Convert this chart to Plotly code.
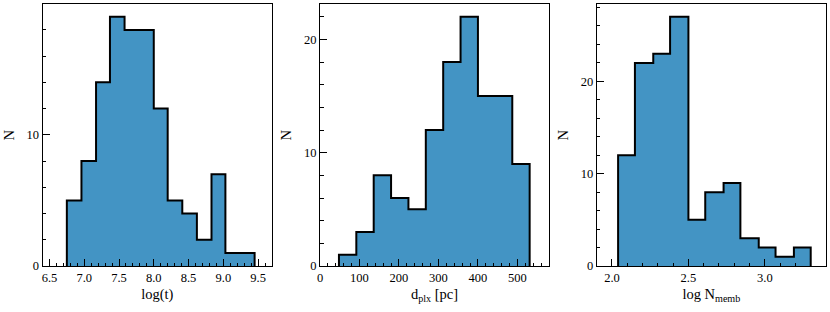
import plotly.graph_objects as go

# ---- data ----
age_edges = [6.75, 6.96, 7.17, 7.37, 7.58, 7.79, 8.00, 8.20, 8.41, 8.62, 8.83, 9.03, 9.24, 9.45]
age_counts = [5, 8, 14, 19, 18, 18, 12, 5, 4, 2, 7, 1, 1]

dist_edges = [48, 92, 136, 180, 224, 268, 312, 356, 400, 443, 487, 531]
dist_counts = [1, 3, 8, 6, 5, 12, 18, 22, 15, 15, 9]

memb_edges = [2.04, 2.15, 2.27, 2.38, 2.50, 2.61, 2.73, 2.84, 2.96, 3.07, 3.19, 3.30]
memb_counts = [12, 22, 23, 27, 5, 8, 9, 3, 2, 1, 2]

x_titles = ["log(t)", "d<sub>plx</sub> [pc]", "log N<sub>memb</sub>"]
x_ranges = [[6.4, 9.7], [0, 580], [1.9, 3.4]]
x_dticks = [0.5, 100, 0.5]
x_minor = [0.1, 20, 0.1]
x_formats = [".1f", "d", ".1f"]

W, H = 830, 312
ML, MR, MT, MB = 40, 3, 3, 46
FILL = "#4394c4"
FONT = "Liberation Serif"

panels = [(age_edges, age_counts), (dist_edges, dist_counts), (memb_edges, memb_counts)]
x_px = [(42.5, 272.0), (320.0, 549.0), (596.7, 826.0)]
y_px = (4.3, 266.0)


def fx(px):
    return (px - ML) / (W - ML - MR)


def fy(px):
    return (H - MB - px) / (H - MT - MB)


fig = go.Figure()
for i, (edges, counts) in enumerate(panels):
    xs = [edges[0]] + list(edges) + [edges[-1]]
    ys = [0] + list(counts) + [counts[-1], 0]
    ax = "" if i == 0 else str(i + 1)
    fig.add_trace(go.Scatter(
        x=xs, y=ys, mode="lines", line=dict(shape="hv", color="black", width=2),
        fill="tozeroy", fillcolor=FILL, xaxis="x" + ax, yaxis="y" + ax,
        showlegend=False, hoverinfo="skip"))
    ymax = max(counts) * 1.05
    common = dict(showline=True, linecolor="black", linewidth=1, mirror=True,
                  ticks="inside", ticklen=7, tickwidth=1, tickcolor="black",
                  showgrid=False, zeroline=False, automargin=False,
                  tickfont=dict(family=FONT, size=12.5, color="black"))
    fig.update_layout({
        "xaxis" + ax: dict(domain=[fx(x_px[i][0]), fx(x_px[i][1])], range=x_ranges[i],
                           dtick=x_dticks[i], tick0=0, tickformat=x_formats[i],
                           minor=dict(dtick=x_minor[i], tick0=0, ticks="inside", ticklen=3.5,
                                      tickcolor="black", tickwidth=1, showgrid=False),
                           title=dict(text=x_titles[i], font=dict(family=FONT, size=14.5, color="black"),
                                      standoff=4),
                           anchor="y" + ax, **common),
        "yaxis" + ax: dict(domain=[fy(y_px[1]), fy(y_px[0])], range=[0, ymax],
                           dtick=10, tick0=0,
                           minor=dict(dtick=2, tick0=0, ticks="inside", ticklen=3.5,
                                      tickcolor="black", tickwidth=1, showgrid=False),
                           title=dict(text="N", font=dict(family=FONT, size=14.5, color="black"),
                                      standoff=8),
                           anchor="x" + ax, **common),
    })

fig.update_layout(width=W, height=H, margin=dict(l=ML, r=MR, t=MT, b=MB),
                  paper_bgcolor="white", plot_bgcolor="white",
                  font=dict(family=FONT, color="black"))
fig.write_html("out.html", config={"displayModeBar": False},
               post_script="document.body.style.margin='0';")
